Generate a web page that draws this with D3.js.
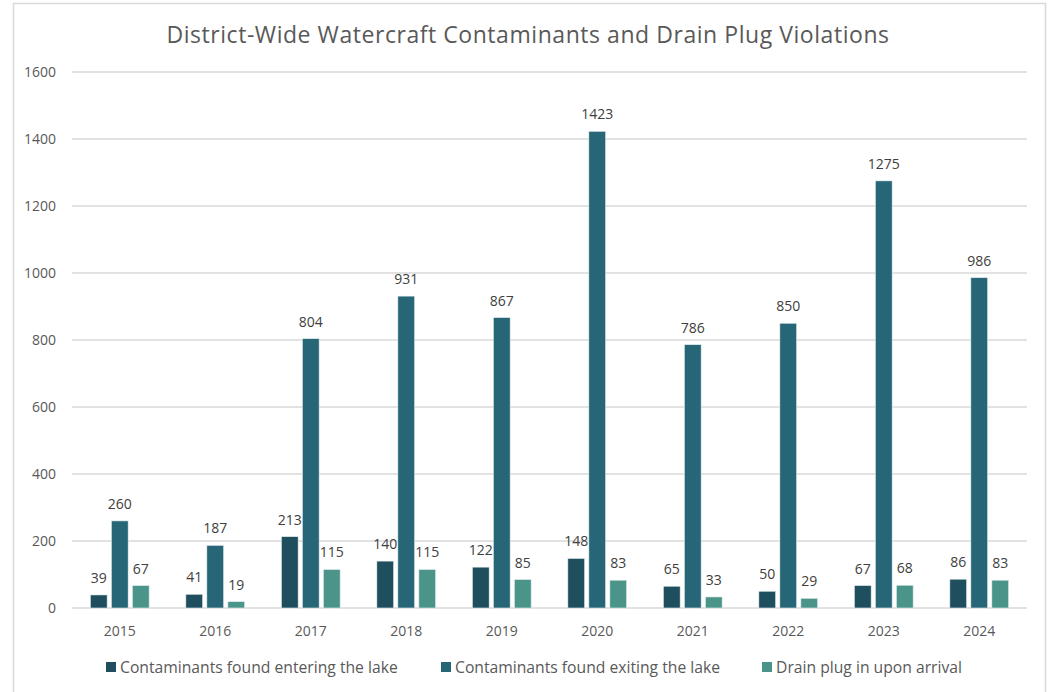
<!DOCTYPE html>
<html>
<head>
<meta charset="utf-8">
<script src="https://cdn.jsdelivr.net/npm/d3@7"></script>
<style>
  body { margin: 0; background: #fff; }
  svg { display: block; font-family: "Open Sans", "Noto Sans", sans-serif; }
</style>
</head>
<body>
<svg id="chart" width="1050" height="692"></svg>
<script>
const years = ["2015","2016","2017","2018","2019","2020","2021","2022","2023","2024"];
const seriesNames = [
  "Contaminants found entering the lake",
  "Contaminants found exiting the lake",
  "Drain plug in upon arrival"
];
const entering = [39, 41, 213, 140, 122, 148, 65, 50, 67, 86];
const exiting  = [260, 187, 804, 931, 867, 1423, 786, 850, 1275, 986];
const drainPlug = [67, 19, 115, 115, 85, 83, 33, 29, 68, 83];
const yTicks = [0, 200, 400, 600, 800, 1000, 1200, 1400, 1600];
const colors = ["#1f4e5f", "#266676", "#4a948a"];

const seriesValues = [entering, exiting, drainPlug];
const rows = years.map((y, i) => ({
  year: y,
  values: seriesNames.map((s, k) => ({ key: s, value: seriesValues[k][i], idx: k }))
}));

const svg = d3.select("#chart");
const m = { left: 72, right: 1027, top: 72, bottom: 608 };

// outer frame
svg.append("rect")
  .attr("x", 13.5).attr("y", 3.5)
  .attr("width", 1032).attr("height", 700)
  .attr("fill", "#fff").attr("stroke", "#d9d9d9").attr("stroke-width", 1.5);

// title
svg.append("text")
  .attr("x", 528).attr("y", 43)
  .attr("text-anchor", "middle")
  .attr("fill", "#595959")
  .style("font-size", "23px")
  .style("letter-spacing", "0.55px")
  .text("District-Wide Watercraft Contaminants and Drain Plug Violations");

const x0 = d3.scaleBand().domain(years).range([m.left, m.right]).padding(0);
const x1 = d3.scaleBand().domain(seriesNames).range([-29.4, 29.4]).paddingInner(0.2).paddingOuter(0);
const y = d3.scaleLinear().domain([0, 1600]).range([m.bottom, m.top]);

// gridlines
svg.append("g")
  .selectAll("line")
  .data(yTicks)
  .join("line")
  .attr("x1", m.left).attr("x2", m.right)
  .attr("y1", d => y(d)).attr("y2", d => y(d))
  .attr("stroke", "#d9d9d9").attr("stroke-width", 1.5);

// y axis labels
const yAxis = d3.axisLeft(y).tickValues(yTicks).tickFormat(d3.format("d")).tickSize(0).tickPadding(0);
const gy = svg.append("g").attr("transform", "translate(56,0)").call(yAxis);
gy.select(".domain").remove();
gy.selectAll("text")
  .attr("fill", "#595959")
  .style("font-size", "14px")
  .style("font-family", "\"Open Sans\", sans-serif");

// x axis labels
const xAxis = d3.axisBottom(x0).tickSize(0).tickPadding(0);
const gx = svg.append("g").attr("transform", `translate(0,${m.bottom + 18})`).call(xAxis);
gx.select(".domain").remove();
gx.selectAll("text")
  .attr("fill", "#595959")
  .style("font-size", "14px")
  .style("font-family", "\"Open Sans\", sans-serif");

// bars
const groups = svg.append("g")
  .selectAll("g")
  .data(rows)
  .join("g")
  .attr("transform", d => `translate(${x0(d.year) + x0.bandwidth() / 2},0)`);

groups.selectAll("rect")
  .data(d => d.values)
  .join("rect")
  .attr("x", d => x1(d.key))
  .attr("width", x1.bandwidth())
  .attr("y", d => y(d.value))
  .attr("height", d => y(0) - y(d.value))
  .attr("fill", d => colors[d.idx])
  .attr("stroke", "#e8f0f0").attr("stroke-width", 0.6);

groups.selectAll("text")
  .data(d => d.values)
  .join("text")
  .attr("x", d => x1(d.key) + x1.bandwidth() / 2)
  .attr("y", d => y(d.value) - 12)
  .attr("text-anchor", "middle")
  .attr("fill", "#404040")
  .style("font-size", "14px")
  .text(d => d.value);

// legend
const legendX = [106, 441, 762];
const legend = svg.append("g")
  .selectAll("g")
  .data(seriesNames)
  .join("g")
  .attr("transform", (d, i) => `translate(${legendX[i]},667)`);
legend.append("rect")
  .attr("x", 0).attr("y", -5).attr("width", 10).attr("height", 10)
  .attr("fill", (d, i) => colors[i]);
legend.append("text")
  .attr("x", 14).attr("y", 5.5)
  .attr("fill", "#595959")
  .style("font-size", "15.7px")
  .text(d => d);
</script>
</body>
</html>
